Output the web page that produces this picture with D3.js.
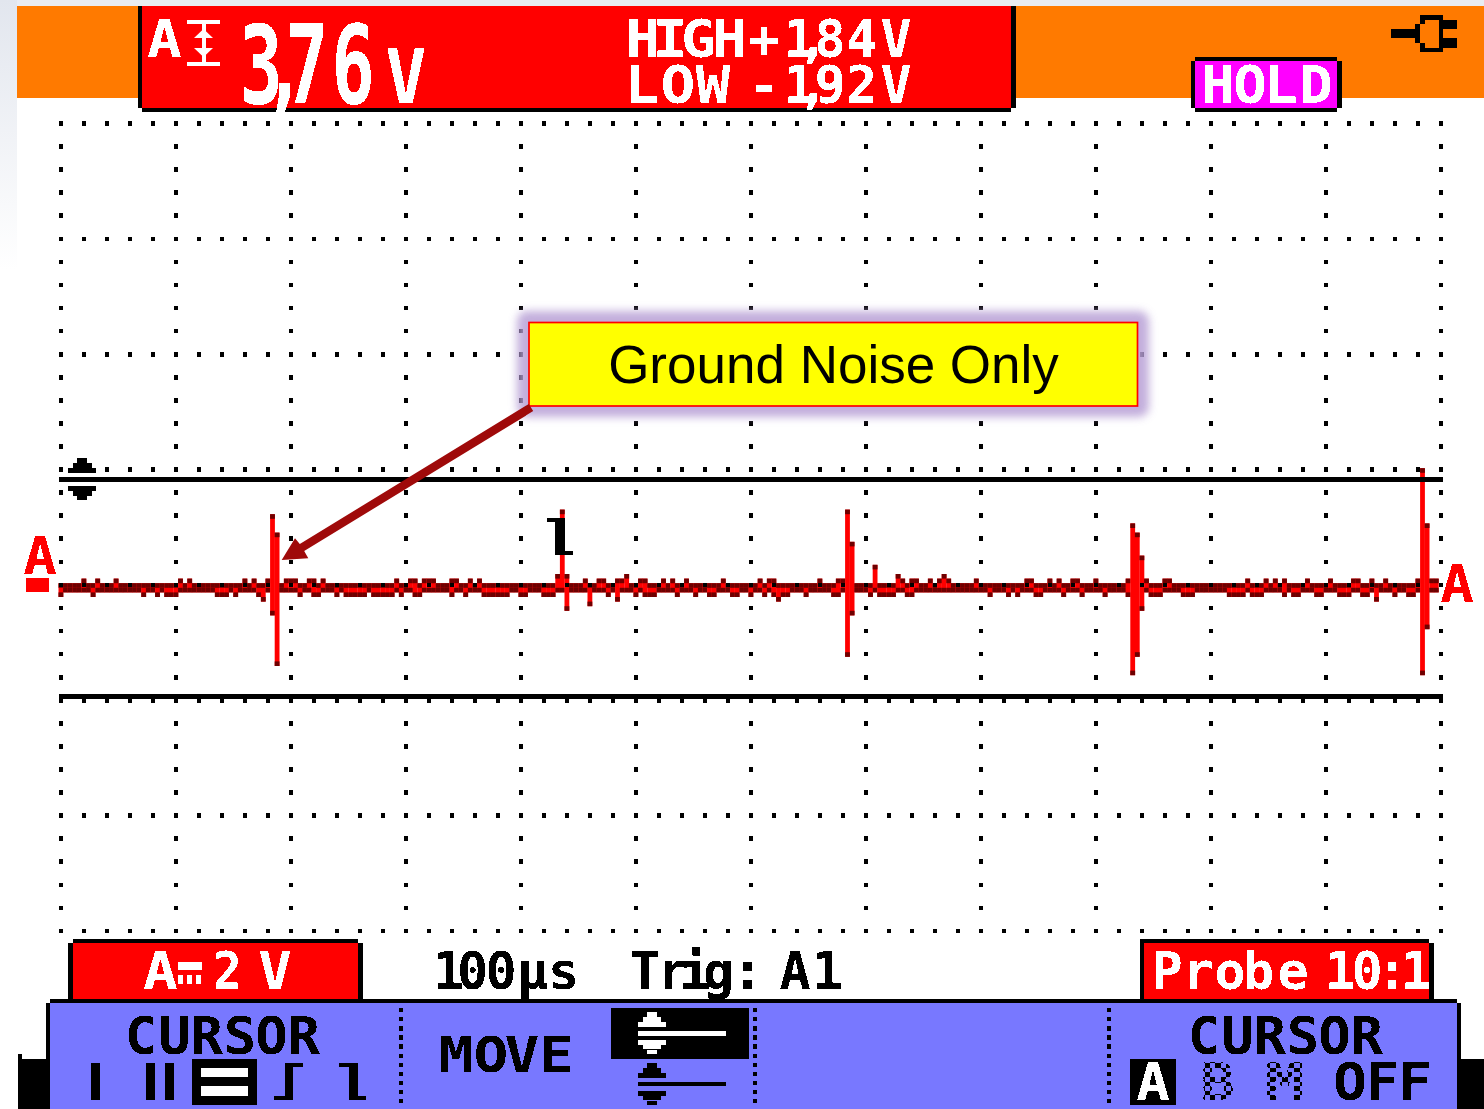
<!DOCTYPE html>
<html><head><meta charset="utf-8">
<script src="https://cdn.jsdelivr.net/npm/d3@7"></script>
<style>html,body{margin:0;padding:0;background:#fff;overflow:hidden}svg{display:block}</style>
</head><body><div id="c"></div>
<script>
// ---- values ----
const voltsPerCount = 0.08;
const samplePeriodUs = 4;
const timeSpanUs = 1200;
const voltSpan = [-2, 2];
const gridCols = d3.range(0, 13);
const gridRows = d3.range(0, 8);
const traceHighCounts = [
1,1,1,1,1,2,1,1,2,1, 1,1,2,1,1,1,1,1,1,1, 1,1,1,1,1,1,2,1,2,1, 1,1,1,1,1,1,1,1,1,1,
2,1,2,1,1,2,16,12,1,2, 2,2,1,1,2,2,1,2,1,1, 1,1,1,1,1,1,1,1,1,1, 1,1,1,2,1,1,2,2,1,2,
2,2,1,1,1,2,2,1,1,2, 1,2,1,1,1,1,1,1,1,1, 1,1,1,1,1,1,1,1,3,17, 3,1,1,1,2,1,1,2,2,1,
1,2,2,3,1,1,2,2,1,1, 1,2,1,2,1,1,2,1,1,1, 1,1,1,1,2,1,1,1,1,1, 1,1,2,1,2,2,1,1,1,1,
1,1,1,1,1,2,1,1,1,2, 2,17,10,1,1,1,1,5,1,1, 1,1,3,2,1,2,2,1,1,2, 1,2,3,2,1,1,1,1,1,2,
1,1,1,1,1,1,1,1,1,1, 2,2,1,1,1,2,1,2,1,1, 2,2,1,1,1,2,1,1,1,1, 1,1,2,14,12,7,2,1,1,1,
2,2,1,1,1,1,1,1,1,1, 1,1,1,1,1,1,1,1,2,1, 1,1,2,1,2,1,2,1,1,1, 1,2,1,1,1,1,2,1,1,1,
1,2,2,1,1,2,1,1,2,1, 1,1,1,1,1,2,26,14,2,2];
const traceLowCounts = [
2,1,1,1,1,1,1,2,1,1, 1,1,1,1,1,1,1,1,2,1, 1,2,1,2,2,2,1,1,1,1, 1,1,1,1,2,2,2,1,2,1,
1,1,1,2,3,1,6,17,1,1, 1,1,2,1,1,2,2,1,1,1, 2,1,2,2,2,2,2,1,2,2, 2,2,2,1,2,1,1,2,2,1,
1,1,1,1,1,2,1,1,2,1, 1,1,2,2,2,2,2,2,1,1, 2,2,1,1,1,2,2,2,1,1, 5,1,1,1,1,4,1,1,1,2,
1,3,1,1,1,2,1,2,2,2, 1,1,1,1,2,1,1,1,2,1, 1,2,2,1,1,1,2,2,1,1, 2,1,1,2,1,2,3,2,2,1,
1,1,2,1,1,1,1,1,2,2, 1,15,6,1,1,1,2,1,2,2, 2,2,1,1,2,2,1,1,1,1, 1,1,1,1,1,1,1,1,1,1,
1,1,2,1,1,1,2,1,2,1, 1,1,2,2,1,1,1,1,2,1, 1,1,2,1,1,1,1,2,1,1, 1,1,2,19,15,5,1,2,2,2,
1,1,1,1,2,2,2,1,1,1, 1,1,1,1,2,2,2,2,1,2, 2,2,1,1,1,1,2,1,2,2, 1,1,1,2,2,1,1,1,2,2,
2,1,1,2,2,1,3,1,1,1, 2,1,1,2,2,1,19,9,1,1];
const readoutValue = "3,76";
const readoutUnit = "V";
const highLabel = "HIGH", highValue = "+1,84V";
const lowLabel = "LOW", lowValue = "-1,92V";
const holdLabel = "HOLD";
const calloutLabel = "Ground Noise Only";
const timebaseLabel = "100µs";
const triggerLabel = "Trig: A1";
const probeLabel = "Probe 10:1";
const softkeyCursor = "CURSOR", softkeyMove = "MOVE", softkeyOff = "OFF";

// ---- page ----
const W = 1484, H = 1109;
const svg = d3.select("#c").append("svg").attr("width", W).attr("height", H).attr("viewBox", [0,0,W,H]);
const defs = svg.append("defs");
const RED="#ff0000", DARK="#6e0000", ORANGE="#ff7a00", BLUE="#7878ff", MAG="#ff00ff", BLK="#000";

const lg = defs.append("linearGradient").attr("id","bgL").attr("x1",0).attr("x2",0).attr("y1",0).attr("y2",1);
lg.append("stop").attr("offset",0).attr("stop-color","#e2e6ee");
lg.append("stop").attr("offset",1).attr("stop-color","#ffffff");
defs.append("filter").attr("id","glow").attr("x","-10%").attr("y","-40%").attr("width","120%").attr("height","180%")
  .append("feGaussianBlur").attr("stdDeviation",4);
const hard = defs.append("filter").attr("id","hard").attr("x",0).attr("y",0).attr("width",W).attr("height",H).attr("filterUnits","userSpaceOnUse");
hard.append("feComponentTransfer").append("feFuncA").attr("type","discrete").attr("tableValues","0 1");
const pat = defs.append("pattern").attr("id","dither").attr("width",9.2).attr("height",9.2).attr("patternUnits","userSpaceOnUse");
pat.append("rect").attr("width",4.6).attr("height",4.6).attr("fill",BLK);
pat.append("rect").attr("x",4.6).attr("y",4.6).attr("width",4.6).attr("height",4.6).attr("fill",BLK);

function box(g,x0,y0,x1,y1,fill){return g.append("rect").attr("x",x0).attr("y",y0).attr("width",x1-x0).attr("height",y1-y0).attr("fill",fill).attr("shape-rendering","crispEdges");}
function poly(g,pts,fill){return g.append("polygon").attr("points",pts.map(p=>p.join(",")).join(" ")).attr("fill",fill);}

// page tint
const bg = svg.append("g");
box(bg,0,0,W,H,"#fff");
box(bg,0,0,W,6,"#e9ecf2");
box(bg,0,0,17,270,"url(#bgL)");

// ---- scales ----
const xDiv = d3.scaleLinear().domain([0,12]).range([61,1441]);
const yDiv = d3.scaleLinear().domain([0,7]).range([123.5,931]);
const xTime = d3.scaleLinear().domain([0,timeSpanUs]).range([58.5,1438.5]);
const yVolt = d3.scaleLinear().domain(voltSpan).range([587.8+115,587.8-115]);

// ---- trace (under grid dots) ----
const samples = traceHighCounts.map((h,i)=>({t:i*samplePeriodUs,h:h*voltsPerCount,l:-traceLowCounts[i]*voltsPerCount}));
const colW = xTime(samplePeriodUs)-xTime(0);
const capV = voltsPerCount;
const tr = svg.append("g").attr("class","trace");
const col = tr.selectAll("g").data(samples).join("g");
col.append("rect").attr("x",d=>xTime(d.t)).attr("width",colW+.2).attr("y",d=>yVolt(d.h)).attr("height",d=>yVolt(d.l)-yVolt(d.h)).attr("fill",RED);
col.append("rect").attr("x",d=>xTime(d.t)).attr("width",colW+.2).attr("y",d=>yVolt(d.h)).attr("height",yVolt(0)-yVolt(capV)).attr("fill",DARK);
col.append("rect").attr("x",d=>xTime(d.t)).attr("width",colW+.2).attr("y",d=>yVolt(d.l+capV)).attr("height",yVolt(0)-yVolt(capV)).attr("fill",DARK);

// ---- grid dots ----
const gd = svg.append("g").attr("class","grid");
const D=4.6;
gridRows.forEach(r=>{ d3.range(0,60.01).forEach(k=>{ box(gd,xDiv(k/5)-D/2,yDiv(r)-D/2,xDiv(k/5)+D/2,yDiv(r)+D/2,BLK); }); });
gridCols.forEach(c=>{ d3.range(0,35.01).forEach(k=>{ if(k%5) box(gd,xDiv(c)-D/2,yDiv(k/5)-D/2,xDiv(c)+D/2,yDiv(k/5)+D/2,BLK); }); });

// cursors
const cur = svg.append("g");
box(cur,58.5,477,1443,482,BLK);
box(cur,58.5,694,1443,698.5,BLK);
[[4.7,458],[9.5,463],[14,468]].forEach(r=>box(cur,82-r[0],r[1],82+r[0],r[1]+5,BLK));
[[14,486],[9.5,491],[4.7,496]].forEach(r=>box(cur,82-r[0],r[1],82+r[0],r[1]+(r[1]==496?4:5),BLK));

// ---- top bars ----
const topBar = svg.append("g");
box(topBar,17,6,W,98,ORANGE);
box(topBar,137.5,6,142,108,BLK);
box(topBar,1011,6,1016,108,BLK);
box(topBar,142,6,1011,108,RED);
box(topBar,142,108,1011,112,BLK);
box(topBar,1195,61,1337,108,MAG);
box(topBar,1195,57,1337,61,BLK);
box(topBar,1195,108,1337,112,BLK);
box(topBar,1190.5,61,1195,108,BLK);
box(topBar,1337,61,1342,108,BLK);
// plug icon
box(topBar,1391,29,1415,38,BLK);
box(topBar,1420,15,1443,19.5,BLK);box(topBar,1420,47.5,1443,52,BLK);
box(topBar,1415,24,1420,43,BLK);box(topBar,1420,19.5,1424.5,24,BLK);box(topBar,1420,43,1424.5,47.5,BLK);
box(topBar,1443,20,1457,29,BLK);box(topBar,1443,38,1457,48,BLK);
box(topBar,1438.5,19.5,1443,47.5,BLK);

// ---- label helper: real text, each glyph centred on a measured position ----
const FONT="'DejaVu Sans Mono'";
const labels = svg.append("g");
function txt(g,s,centers,cw,tp,bt,fill){
  const fs=(bt-tp)/0.729, adv=cw*1.2, sx=adv/(0.602*fs);
  g.append("text").text(s)
    .attr("transform",`translate(0,${bt}) scale(${sx},1)`)
    .attr("x",centers.map(x=>((x-adv/2)/sx).toFixed(2)).join(" ")).attr("y",0)
    .attr("font-family",FONT).attr("font-weight","bold").attr("font-size",fs)
    .attr("fill",fill).style("white-space","pre");
}
const L=labels.append("g").attr("filter","url(#hard)");
txt(L,"A",[164.5],29,20,57,"#fff");
txt(L,readoutValue,[261,284,307,353],36,24,103,"#fff");
txt(L,readoutUnit,[406],34,48,103,"#fff");
txt(L,highLabel,[643,670,698.5,729.5],29,20,57,"#fff");
txt(L,highValue,[764,799,813,830,861.5,896],26,20,57,"#fff");
txt(L,lowLabel,[642,678,713],29,66,103,"#fff");
txt(L,lowValue,[764,799,813,830,861.5,896],26,66,103,"#fff");
txt(L,holdLabel,[1218,1250,1281,1316],28,66,103,"#fff");
// selected-cursor glyph next to the channel letter
const cg=labels.append("g");
box(cg,187,20,220,24,"#fff");box(cg,187,62,220,66,"#fff");box(cg,201.5,24,205.5,62,"#fff");
poly(cg,[[203.5,29],[194,38],[213,38]],"#fff");poly(cg,[[203.5,57],[194,48],[213,48]],"#fff");

// channel markers
txt(L,"A",[40],28,537,574,RED);
box(labels,26,578,49,592,RED);
txt(L,"A",[1457],28,565,602,RED);

// cursor 1 marker
box(labels,546.7,518,565,522,BLK);box(labels,555,518,565,555,BLK);box(labels,555,551,573,555,BLK);

// callout
const co=svg.append("g");
co.append("rect").attr("x",517).attr("y",311).attr("width",632).attr("height",106).attr("rx",10).attr("fill","#b8a0d6").attr("opacity",.85).attr("filter","url(#glow)");
co.append("rect").attr("x",529).attr("y",322.5).attr("width",608.5).attr("height",83.5).attr("fill","#ffff00").attr("stroke","#ff0000").attr("stroke-width",1.7);
co.append("text").text(calloutLabel).attr("x",833.5).attr("y",383).attr("text-anchor","middle").attr("font-family","'Liberation Sans'").attr("font-size",53).attr("fill",BLK);
poly(co,[[528.8,403.9],[533.2,411.1],[304.2,551.1],[308.3,558.3],[281.7,560],[295,538.3],[299.8,543.9]],"#9f0a0a");

// ---- bottom ----
const b=svg.append("g");
box(b,72.7,943,358,999,RED);box(b,72.7,939,358,943,BLK);box(b,68.3,943,72.7,999,BLK);box(b,358,943,362.6,999,BLK);
box(b,1144,943,1429,999,RED);box(b,1140,939,1429,943,BLK);box(b,1140,943,1144,999,BLK);box(b,1429,943,1434,999,BLK);
box(b,50,1003,1457,H,BLUE);box(b,50,999,1457,1003,BLK);
box(b,45.6,1003,50,H,BLK);box(b,17.5,1059,50,H,BLK);box(b,17.5,1054,22,1059,BLK);
box(b,1457,1003,1461,1059,BLK);box(b,1457,1059,W,H,BLK);
[401,755,1109].forEach(x=>{d3.range(1008,1106,9.1).forEach(y=>box(b,x-2.2,y,x+2.2,y+4.3,BLK));});

box(b,178,962,202,970,"#fff");[178,187,196].forEach(x=>box(b,x,975,x+5,984,"#fff"));
box(b,91,1063,100,1100,BLK);
box(b,146,1063,155,1100,BLK);box(b,165,1063,173.5,1100,BLK);
box(b,192,1059,256.5,1105,BLK);box(b,201,1067.7,248,1077,"#fff");box(b,201,1085.7,248,1095.7,"#fff");
// step glyphs
box(b,274,1096,293.3,1100,BLK);box(b,284.5,1063,293.3,1100,BLK);box(b,284.5,1063,303,1067,BLK);
box(b,339,1063,358,1067,BLK);box(b,349,1063,358,1100,BLK);box(b,349,1096,366,1100,BLK);
// move selector
box(b,611,1008,749,1059,BLK);
function moveIcon(y,fill,lineH){
  const cx=652;
  [[4.6,0],[9,5],[13.7,10]].forEach(r=>box(b,cx-r[0],y+r[1],cx+r[0],y+r[1]+(r[1]==10?4.5:5),fill));
  box(b,638,y+18.7,725.6,y+18.7+lineH,fill);
  [[13.7,28],[9,32.5],[4.6,37.5]].forEach(r=>box(b,cx-r[0],y+r[1],cx+r[0],y+r[1]+4.5,fill));
}
moveIcon(1012,"#fff",5.3);
moveIcon(1063,BLK,4);
box(b,1130,1059,1176,1105,BLK);

const T=svg.append("g").attr("filter","url(#hard)");
txt(T,"A",[160.5],29,952,989,"#fff");
txt(T,"2",[227.5],24,952,989,"#fff");
txt(T,"V",[275],28,952,989,"#fff");
txt(T,timebaseLabel,[448.5,472.5,501,532.5,563.5],26,952,989,BLK);
txt(T,triggerLabel,[645,673,695,718.5,747.5,770,795,827.5],26,952,989,BLK);
txt(T,probeLabel,[1167,1198,1230,1258.5,1293,1315,1340,1367,1392,1416],26,952,989,"#fff");
txt(T,softkeyCursor,[141,174.5,207,240,271.5,304],27,1017,1054,BLK);
txt(T,softkeyMove,[456,491,522,556.5],29,1036,1072,BLK);
txt(T,softkeyCursor,[1204,1237.5,1270,1303,1334.5,1367],27,1017,1054,BLK);
txt(T,"A",[1153],28,1063,1100,"#fff");
txt(T,"B",[1217.5],29,1063,1100,"url(#dither)");
txt(T,"M",[1284.5],33,1063,1100,"url(#dither)");
txt(T,softkeyOff,[1350,1382.5,1415],28,1063,1100,BLK);
</script></body></html>
